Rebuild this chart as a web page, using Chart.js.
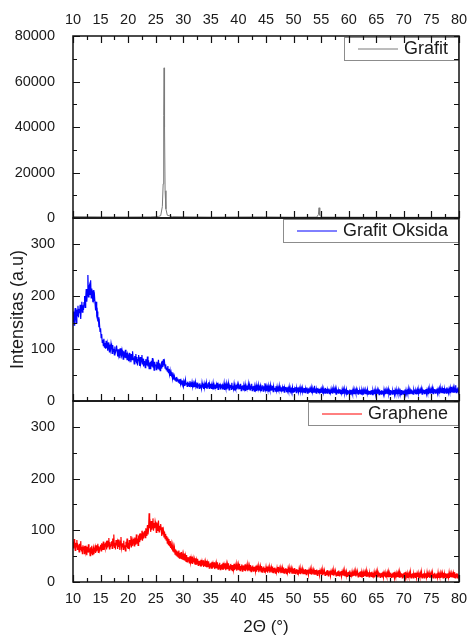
<!DOCTYPE html>
<html>
<head>
<meta charset="utf-8">
<script src="https://cdn.jsdelivr.net/npm/chart.js@4.4.1/dist/chart.umd.min.js"></script>
<style>
  html, body { margin: 0; padding: 0; background: #fff; }
  #wrap { position: relative; width: 467px; height: 639px; }
  #wrap canvas { position: absolute; left: 0; top: 0; }
</style>
</head>
<body>
<div id="wrap">
  <canvas id="grafit" width="467" height="639"></canvas>
  <canvas id="oksida" width="467" height="639"></canvas>
  <canvas id="graphene" width="467" height="639"></canvas>
</div>
<script>
// 2-theta scan: 10..80 deg, 0.1 deg step
const twoThetaStart = 10;
const twoThetaStep = 0.1;

// Grafit: sharp (002) peak, small (004) peak
const grafitTheta = [10, 15, 20, 24, 25.5, 25.9, 26.2, 26.35, 26.45, 26.52, 26.6, 26.7, 26.85, 27.1, 28, 35, 44.5, 50, 54.2, 54.5, 54.62, 54.75, 55.1, 60, 70, 80];
const grafitCounts = [600, 500, 450, 500, 700, 1000, 5000, 15000, 45000, 66000, 40000, 12000, 4000, 1200, 600, 400, 500, 350, 400, 1500, 4500, 1200, 400, 350, 300, 300];

// Grafit Oksida, one row = 1 deg
const grafitOksida = [
  152, 171, 145, 166, 178, 158, 149, 175, 163, 182,
  160, 176, 168, 184, 157, 179, 190, 170, 183, 174,
  188, 201, 179, 196, 214, 190, 207, 241, 199, 218,
  222, 204, 231, 197, 215, 208, 189, 212, 196, 201,
  186, 173, 190, 166, 171, 152, 160, 141, 148, 133,
  139, 121, 128, 112, 117, 106, 119, 103, 111, 100,
  115, 101, 109, 96, 112, 104, 94, 108, 99, 110,
  103, 91, 107, 95, 100, 88, 104, 93, 97, 106,
  96, 85, 99, 89, 94, 82, 101, 90, 86, 97,
  91, 80, 95, 84, 88, 98, 82, 92, 79, 90,
  87, 76, 92, 81, 85, 74, 90, 79, 95, 83,
  82, 71, 86, 76, 90, 73, 84, 68, 79, 88,
  79, 67, 84, 72, 77, 88, 70, 81, 66, 76,
  75, 64, 80, 69, 73, 85, 66, 78, 62, 72,
  73, 61, 77, 66, 82, 64, 71, 59, 75, 68,
  70, 60, 75, 63, 68, 79, 61, 72, 58, 67,
  71, 62, 77, 65, 80, 68, 74, 63, 70, 60,
  64, 57, 67, 54, 61, 51, 58, 48, 55, 50,
  52, 44, 49, 41, 47, 40, 45, 38, 46, 39,
  43, 36, 41, 34, 42, 33, 39, 35, 37, 32,
  38, 31, 36, 29, 40, 32, 35, 28, 37, 30,
  35, 28, 38, 30, 33, 27, 36, 29, 34, 26,
  33, 27, 36, 28, 31, 25, 35, 29, 32, 24,
  34, 26, 31, 24, 35, 28, 30, 23, 33, 27,
  32, 25, 34, 23, 30, 27, 36, 24, 31, 26,
  33, 24, 30, 26, 34, 22, 31, 27, 29, 23,
  31, 25, 35, 22, 30, 27, 33, 23, 29, 26,
  32, 23, 29, 26, 34, 21, 30, 25, 33, 22,
  30, 24, 33, 21, 29, 26, 31, 22, 35, 24,
  29, 23, 32, 20, 30, 25, 28, 22, 31, 24,
  31, 22, 28, 24, 33, 20, 29, 23, 30, 21,
  28, 23, 31, 19, 29, 25, 27, 21, 32, 22,
  30, 21, 27, 24, 33, 20, 28, 22, 29, 19,
  27, 22, 30, 19, 28, 24, 31, 20, 27, 23,
  29, 20, 26, 23, 30, 19, 28, 21, 34, 22,
  28, 19, 27, 22, 29, 18, 26, 21, 30, 20,
  26, 21, 29, 18, 27, 22, 25, 19, 28, 20,
  27, 18, 25, 21, 29, 19, 26, 22, 24, 18,
  26, 20, 28, 17, 25, 21, 27, 18, 26, 19,
  24, 19, 27, 17, 25, 20, 23, 18, 26, 17,
  25, 18, 23, 20, 27, 16, 24, 19, 26, 17,
  23, 17, 26, 19, 24, 16, 25, 18, 22, 17,
  25, 16, 23, 19, 26, 15, 24, 18, 22, 16,
  23, 17, 25, 15, 24, 18, 22, 16, 29, 17,
  24, 15, 22, 18, 25, 16, 23, 17, 21, 15,
  22, 16, 24, 14, 23, 17, 21, 15, 25, 16,
  23, 15, 21, 17, 24, 14, 22, 16, 23, 15,
  21, 14, 24, 16, 22, 15, 23, 13, 21, 16,
  22, 15, 20, 16, 23, 14, 21, 15, 22, 13,
  21, 14, 23, 15, 20, 16, 22, 13, 21, 15,
  20, 14, 22, 13, 21, 15, 19, 14, 22, 13,
  21, 13, 20, 15, 22, 14, 20, 13, 21, 15,
  19, 14, 22, 13, 20, 15, 21, 12, 20, 14,
  21, 13, 19, 15, 22, 13, 20, 14, 19, 13,
  20, 14, 21, 12, 20, 15, 19, 13, 22, 14,
  19, 13, 21, 14, 20, 12, 22, 14, 19, 13,
  21, 14, 19, 13, 22, 15, 20, 13, 21, 14,
  20, 13, 22, 14, 19, 12, 21, 15, 20, 13,
  19, 14, 21, 12, 20, 15, 22, 13, 19, 14,
  21, 13, 20, 15, 19, 12, 21, 14, 20, 13,
  20, 14, 22, 13, 21, 15, 19, 14, 23, 13,
  21, 13, 20, 15, 22, 14, 20, 13, 21, 16,
  22, 14, 20, 16, 21, 13, 23, 15, 20, 14,
  21, 15, 23, 13, 20, 16, 22, 14, 21, 15,
  23, 14, 21, 16, 22, 13, 24, 15, 21, 14,
  22, 15, 24, 14, 21, 17, 23, 15, 22, 16,
  24, 15, 22, 17, 23, 14, 25, 16, 22, 15,
  23, 16, 25, 15, 22, 17, 24, 15, 26, 16,
  24, 16, 23, 18, 25, 15, 27, 17, 23, 16,
  25, 17, 23, 18, 30, 16, 24, 18, 26, 17,
  22
];

// Graphene, one row = 1 deg
const graphene = [
  78, 65, 83, 70, 61, 76, 68, 81, 63, 72,
  70, 58, 74, 63, 79, 60, 68, 55, 71, 64,
  66, 54, 70, 59, 64, 52, 68, 57, 73, 60,
  62, 51, 67, 56, 70, 53, 60, 66, 54, 63,
  68, 56, 71, 59, 65, 74, 57, 69, 61, 66,
  72, 60, 75, 63, 69, 78, 62, 71, 66, 74,
  76, 63, 80, 67, 73, 85, 64, 77, 69, 72,
  79, 65, 84, 70, 92, 67, 76, 63, 81, 71,
  77, 64, 82, 68, 74, 62, 79, 87, 66, 73,
  75, 63, 80, 66, 71, 60, 78, 68, 84, 65,
  76, 64, 81, 69, 74, 89, 67, 78, 70, 83,
  80, 70, 86, 73, 79, 92, 74, 84, 71, 88,
  90, 77, 94, 81, 87, 99, 80, 91, 84, 96,
  99, 86, 104, 90, 97, 110, 92, 101, 133, 104,
  112, 97, 118, 101, 109, 123, 99, 114, 104, 117,
  111, 96, 115, 100, 107, 119, 97, 109, 101, 112,
  102, 89, 106, 92, 99, 86, 97, 84, 93, 81,
  89, 75, 86, 72, 83, 69, 79, 66, 74, 63,
  71, 59, 68, 57, 66, 54, 63, 52, 61, 50,
  59, 48, 61, 46, 56, 45, 58, 44, 53, 43,
  53, 42, 55, 41, 50, 40, 52, 39, 48, 41,
  48, 37, 50, 38, 46, 36, 49, 35, 45, 38,
  44, 34, 46, 33, 42, 35, 45, 32, 41, 34,
  41, 31, 43, 30, 39, 32, 42, 29, 38, 31,
  39, 29, 41, 28, 37, 30, 40, 27, 36, 29,
  37, 27, 39, 26, 35, 28, 38, 25, 34, 27,
  36, 26, 38, 25, 34, 27, 37, 24, 33, 26,
  35, 25, 37, 24, 33, 26, 36, 23, 34, 25,
  34, 25, 36, 23, 32, 26, 35, 24, 33, 22,
  33, 24, 35, 23, 31, 25, 34, 22, 32, 24,
  33, 23, 35, 22, 31, 25, 34, 21, 32, 24,
  32, 22, 34, 21, 30, 24, 33, 21, 31, 23,
  31, 22, 33, 20, 30, 23, 32, 21, 29, 22,
  30, 21, 32, 20, 29, 23, 31, 19, 28, 22,
  30, 20, 31, 19, 28, 22, 30, 19, 27, 21,
  29, 20, 30, 18, 27, 21, 29, 18, 26, 20,
  28, 19, 30, 18, 27, 20, 28, 17, 26, 19,
  27, 19, 29, 17, 26, 20, 27, 17, 25, 18,
  27, 18, 28, 17, 25, 19, 27, 16, 25, 18,
  26, 18, 27, 16, 25, 19, 26, 16, 24, 17,
  26, 17, 27, 16, 24, 18, 25, 15, 23, 17,
  25, 16, 26, 15, 23, 17, 25, 15, 22, 16,
  24, 16, 25, 14, 23, 17, 24, 14, 22, 16,
  24, 15, 25, 14, 22, 16, 23, 14, 21, 15,
  23, 15, 24, 13, 22, 16, 23, 13, 21, 15,
  22, 14, 24, 13, 21, 15, 22, 13, 20, 14,
  22, 14, 23, 12, 21, 15, 22, 12, 20, 14,
  21, 13, 23, 12, 20, 14, 21, 12, 19, 13,
  21, 13, 22, 12, 20, 14, 21, 11, 19, 13,
  21, 12, 22, 11, 19, 14, 20, 11, 19, 13,
  20, 12, 22, 11, 19, 13, 20, 11, 18, 12,
  20, 12, 21, 11, 19, 13, 20, 10, 18, 12,
  20, 11, 21, 10, 18, 13, 19, 10, 18, 12,
  19, 11, 21, 10, 18, 12, 19, 10, 17, 12,
  19, 11, 20, 10, 18, 12, 19, 9, 17, 11,
  19, 10, 20, 9, 17, 12, 18, 9, 17, 11,
  18, 10, 20, 9, 17, 11, 18, 9, 16, 11,
  18, 10, 19, 9, 17, 11, 18, 9, 16, 10,
  18, 10, 19, 8, 16, 11, 17, 9, 16, 10,
  18, 9, 19, 8, 16, 11, 17, 8, 16, 10,
  18, 9, 19, 8, 16, 11, 17, 8, 15, 10,
  17, 9, 19, 8, 16, 10, 17, 8, 15, 10,
  18, 9, 18, 8, 16, 10, 17, 8, 15, 10,
  17, 9, 19, 8, 16, 10, 17, 8, 15, 10,
  17, 9, 18, 8, 16, 10, 17, 8, 15, 9,
  17, 9, 18, 8, 16, 10, 18, 8, 15, 9,
  17, 9, 18, 8, 15, 10, 17, 8, 16, 9,
  17, 8, 18, 9, 15, 10, 17, 8, 16, 9,
  17, 9, 18, 8, 16, 10, 17, 9, 15, 9,
  17, 9, 19, 8, 16, 10, 17, 8, 16, 9,
  13
];

const FONT = '"Liberation Sans", Arial, sans-serif';
const TEXT = '#1a1a1a';

function toPoints(values) {
  return values.map((v, i) => ({ x: twoThetaStart + i * twoThetaStep, y: v }));
}

// legend box in the top-right corner of each panel
const panelLegend = {
  id: 'panelLegend',
  afterDraw(chart) {
    const ds = chart.data.datasets[0];
    const { ctx, chartArea: a } = chart;
    ctx.save();
    ctx.font = '18px ' + FONT;
    const tw = ctx.measureText(ds.label).width;
    const w = Math.round(14 + 40 + 6 + tw + 10);
    const h = 23;
    const x = Math.round(a.right) - 1 - w;
    const y = Math.round(a.top) + 1;
    ctx.fillStyle = '#fff';
    ctx.fillRect(x, y, w, h);
    ctx.strokeStyle = '#8c8c8c';
    ctx.lineWidth = 1;
    ctx.strokeRect(x + 0.5, y + 0.5, w, h);
    ctx.strokeStyle = ds.borderColor;
    ctx.beginPath();
    ctx.moveTo(x + 14, y + h / 2 + 0.5);
    ctx.lineTo(x + 54, y + h / 2 + 0.5);
    ctx.stroke();
    ctx.fillStyle = TEXT;
    ctx.textBaseline = 'middle';
    ctx.fillText(ds.label, x + 60, y + h / 2 + 1);
    ctx.restore();
  }
};

// frame + inward ticks like the Origin plot
const panelFrame = {
  id: 'panelFrame',
  afterDraw(chart, args, opts) {
    const { ctx, chartArea: a } = chart;
    const x = chart.scales.x, y = chart.scales.y;
    ctx.save();
    ctx.strokeStyle = '#111';
    ctx.lineWidth = 1.2;
    ctx.beginPath();
    for (let v = 10; v <= 80; v += 2.5) {
      const px = Math.round(x.getPixelForValue(v)) + 0.5;
      const len = v % 5 === 0 ? 7 : 4;
      ctx.moveTo(px, a.bottom); ctx.lineTo(px, a.bottom - len);
      if (opts.topTicks) { ctx.moveTo(px, a.top); ctx.lineTo(px, a.top + len); }
    }
    for (let v = 0; v <= y.max; v += opts.yMinor) {
      const py = Math.round(y.getPixelForValue(v)) + 0.5;
      const len = v % opts.yMajor === 0 ? 7 : 4;
      ctx.moveTo(a.left, py); ctx.lineTo(a.left + len, py);
      ctx.moveTo(a.right, py); ctx.lineTo(a.right - 5, py);
    }
    ctx.stroke();
    ctx.lineWidth = 1.5;
    ctx.strokeRect(a.left, a.top, a.right - a.left, a.bottom - a.top);
    ctx.restore();
  }
};

const tickFont = { family: FONT, size: 14.5 };

function xScale(extra) {
  return Object.assign({
    type: 'linear', min: 10, max: 80,
    grid: { display: false }, border: { display: false },
    ticks: { stepSize: 5, color: TEXT, font: tickFont }
  }, extra);
}

function yScale(max, step, extra) {
  return Object.assign({
    min: 0, max: max,
    grid: { display: false }, border: { display: false },
    ticks: { stepSize: step, includeBounds: false, padding: 10, color: TEXT,
             font: tickFont, callback: v => String(v) },
    afterFit: s => { s.width = 73; }
  }, extra);
}

function baseOptions(padTop, padBottom, scales, frameOpts) {
  return {
    responsive: false,
    animation: false,
    events: [],
    layout: { padding: { left: 0, right: 8, top: padTop, bottom: padBottom } },
    elements: { point: { radius: 0 }, line: { borderWidth: 1, tension: 0 } },
    plugins: { legend: { display: false }, tooltip: { enabled: false }, panelFrame: frameOpts },
    scales: scales
  };
}

// top panel: Grafit
new Chart(document.getElementById('grafit'), {
  type: 'line',
  data: {
    datasets: [{
      label: 'Grafit',
      data: grafitTheta.map((t, i) => ({ x: t, y: grafitCounts[i] })),
      borderColor: '#7a7a7a',
      borderWidth: 1
    }]
  },
  options: baseOptions(0, 639 - 218, {
    x: xScale({
      position: 'top',
      ticks: { stepSize: 5, padding: -1, color: TEXT, font: tickFont },
      afterFit: s => { s.height = 36; s.paddingLeft = 0; s.paddingRight = 0; }
    }),
    y: yScale(80000, 20000)
  }, { topTicks: true, yMinor: 10000, yMajor: 20000 }),
  plugins: [panelLegend, panelFrame]
});

// middle panel: Grafit Oksida
new Chart(document.getElementById('oksida'), {
  type: 'line',
  data: {
    datasets: [{
      label: 'Grafit Oksida',
      data: toPoints(grafitOksida),
      borderColor: '#0000ff',
      borderWidth: 1.2
    }]
  },
  options: baseOptions(218, 639 - 401, {
    x: xScale({ display: false }),
    y: yScale(350, 100, {
      title: { display: true, text: 'Intensitas (a.u)', color: TEXT,
               font: { family: FONT, size: 18 }, padding: { top: 7, bottom: 0 } }
    })
  }, { topTicks: false, yMinor: 50, yMajor: 100 }),
  plugins: [panelLegend, panelFrame]
});

// bottom panel: Graphene
new Chart(document.getElementById('graphene'), {
  type: 'line',
  data: {
    datasets: [{
      label: 'Graphene',
      data: toPoints(graphene),
      borderColor: '#ff0000',
      borderWidth: 1.2
    }]
  },
  options: baseOptions(401, 0, {
    x: xScale({
      position: 'bottom',
      ticks: { stepSize: 5, padding: 0, color: TEXT, font: tickFont },
      title: { display: true, text: '2\u0398 (\u00b0)', color: TEXT,
               font: { family: FONT, size: 17 }, padding: { top: 0, bottom: 1 } },
      afterFit: s => { s.height = 639 - 582; s.paddingLeft = 0; s.paddingRight = 0; }
    }),
    y: yScale(350, 100)
  }, { topTicks: false, yMinor: 50, yMajor: 100 }),
  plugins: [panelLegend, panelFrame]
});
</script>
</body>
</html>
